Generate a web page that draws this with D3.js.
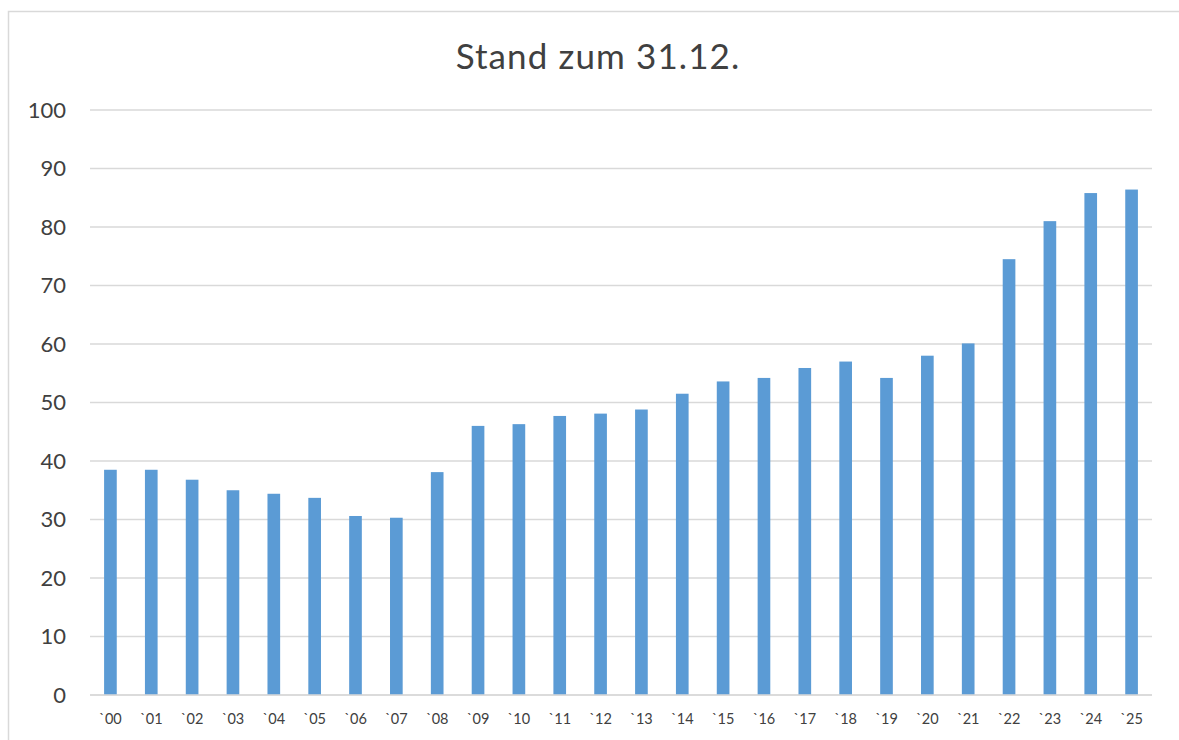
<!DOCTYPE html>
<html>
<head>
<meta charset="utf-8">
<script src="https://cdn.jsdelivr.net/npm/d3@7"></script>
<style>
  html, body { margin: 0; padding: 0; background: #fff; }
  svg { display: block; }
</style>
</head>
<body>
<svg id="chart" width="1179" height="740"></svg>
<script>
const categories = ["`00","`01","`02","`03","`04","`05","`06","`07","`08","`09","`10","`11","`12","`13","`14","`15","`16","`17","`18","`19","`20","`21","`22","`23","`24","`25"];
const values = [38.5, 38.5, 36.8, 35.0, 34.4, 33.7, 30.6, 30.3, 38.1, 46.0, 46.3, 47.7, 48.1, 48.8, 51.5, 53.6, 54.2, 55.9, 57.0, 54.2, 58.0, 60.1, 74.5, 81.0, 85.8, 86.4];
const yTicks = [0, 10, 20, 30, 40, 50, 60, 70, 80, 90, 100];
const title = "Stand zum 31.12.";

const svg = d3.select("#chart");
const fontFam = "Lato, 'Open Sans', sans-serif";

// outer border
svg.append("rect")
  .attr("x", 8.5).attr("y", 11.5)
  .attr("width", 1180).attr("height", 740)
  .attr("fill", "none").attr("stroke", "#d9d9d9").attr("stroke-width", 1.5);

const margin = { left: 90, right: 1152, top: 110, bottom: 695 };

const x = d3.scaleBand().domain(categories).range([margin.left, margin.right]).paddingInner(0.69).paddingOuter(0.345);
const y = d3.scaleLinear().domain([0, 100]).range([margin.bottom, margin.top]);

// gridlines
svg.append("g").selectAll("line").data(yTicks).join("line")
  .attr("x1", margin.left).attr("x2", margin.right)
  .attr("y1", d => y(d)).attr("y2", d => y(d))
  .attr("stroke", "#d9d9d9").attr("stroke-width", 1.5);

// bars
svg.append("g").selectAll("rect").data(values).join("rect")
  .attr("x", (d, i) => x(categories[i]))
  .attr("y", d => y(d))
  .attr("width", x.bandwidth())
  .attr("height", d => y(0) - y(d))
  .attr("fill", "#5b9bd5");

// baseline over bars
svg.append("line")
  .attr("x1", margin.left).attr("x2", margin.right)
  .attr("y1", y(0)).attr("y2", y(0))
  .attr("stroke", "#d9d9d9").attr("stroke-width", 1.5);

// y axis labels
const yAxis = d3.axisLeft(y).tickValues(yTicks).tickSize(0).tickPadding(0);
const gy = svg.append("g").attr("transform", "translate(66,0)").call(yAxis);
gy.select(".domain").remove();
gy.selectAll("text").attr("font-family", fontFam).attr("font-size", 22).attr("fill", "#404040");

// x axis labels
const xAxis = d3.axisBottom(x).tickSize(0).tickPadding(0);
const gx = svg.append("g").attr("transform", "translate(0,714)").call(xAxis);
gx.select(".domain").remove();
gx.selectAll("text").attr("font-family", fontFam).attr("font-size", 14.5).attr("fill", "#404040");

// title
svg.append("text")
  .attr("x", 598).attr("y", 69)
  .attr("text-anchor", "middle")
  .attr("font-family", fontFam).attr("font-size", 35).attr("letter-spacing", 1.1).attr("fill", "#404040")
  .text(title);
</script>
</body>
</html>
